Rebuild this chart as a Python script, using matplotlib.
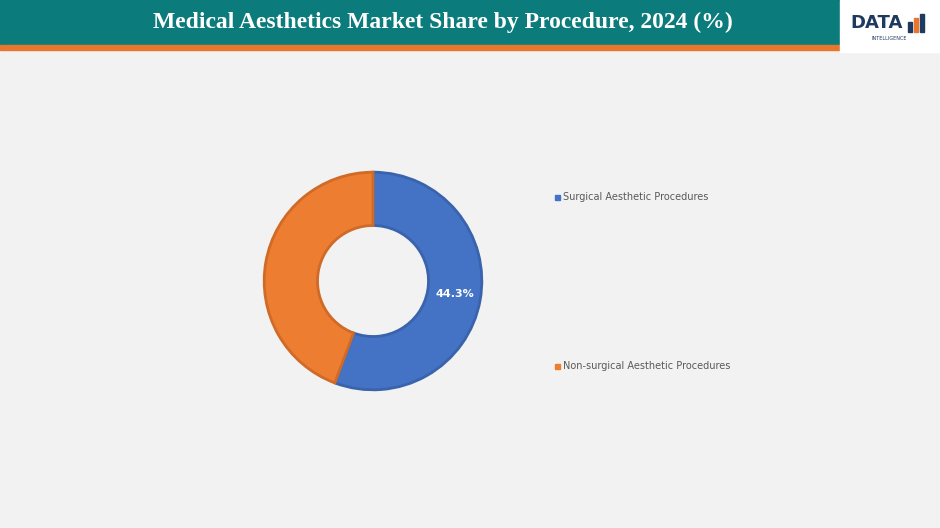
import matplotlib.pyplot as plt
from matplotlib.patches import Rectangle

categories = ["Surgical Aesthetic Procedures", "Non-surgical Aesthetic Procedures"]
values = [55.7, 44.3]
shown_labels = ["44.3%", ""]
colors = ["#4472c4", "#ed7d31"]

fig = plt.figure(figsize=(9.4, 5.28), dpi=100)
fig.patch.set_facecolor("#f2f2f2")
W, H = 940, 528

def fx(x): return x / W
def fy(y): return 1 - y / H

# banner
fig.patches.append(Rectangle((0, fy(45)), 1, 45 / H, transform=fig.transFigure, color="#0b7b7b", zorder=0))
fig.patches.append(Rectangle((0, fy(50)), fx(840), 5 / H, transform=fig.transFigure, color="#e8762d", zorder=0))
fig.patches.append(Rectangle((fx(840), fy(52)), fx(100), 52 / H, transform=fig.transFigure, color="white", zorder=1))
fig.text(fx(443), fy(22), "Medical Aesthetics Market Share by Procedure, 2024 (%)", color="white",
         fontsize=17, fontweight="bold", family="Liberation Serif", ha="center", va="center")
fig.text(fx(877), fy(23), "DATA", color="#1f3a5f", fontsize=13, fontweight="bold", ha="center", va="center")
fig.text(fx(889), fy(38), "INTELLIGENCE", color="#1f3a5f", fontsize=3.5, ha="center", va="center")
for i, (h, c) in enumerate([(10, "#1f3a5f"), (14, "#e8762d"), (18, "#1f3a5f")]):
    fig.patches.append(Rectangle((fx(908 + i * 6), fy(32)), 4 / W, h / H, transform=fig.transFigure, color=c, zorder=2))

# donut
R = 109
ax = fig.add_axes([fx(373 - R - 2), fy(281 + R + 2), (2 * R + 4) / W, (2 * R + 4) / H])
wedges, _ = ax.pie(values, colors=colors, startangle=90, counterclock=False, radius=1,
                   wedgeprops=dict(width=0.49, edgecolor=None, linewidth=0))
for w, c in zip(wedges, ["#3a63ad", "#d06a27"]):
    w.set_edgecolor(c); w.set_linewidth(2)
ax.text(0.75, -0.12, shown_labels[0], color="white", fontsize=8, fontweight="bold", ha="center", va="center")
ax.set_xlim(-1.02, 1.02); ax.set_ylim(-1.02, 1.02)
ax.set_aspect("equal"); ax.axis("off")

# legend
for cat, col, y in zip(categories, colors, [197, 366]):
    fig.patches.append(Rectangle((fx(555), fy(200)if y == 197 else fy(369)), 5 / W, 5 / H,
                                 transform=fig.transFigure, color=col))
    fig.text(fx(563), fy(y), cat, fontsize=7, color="#595959", va="center", ha="left")

fig.savefig("out.png", dpi=100, facecolor=fig.get_facecolor())
